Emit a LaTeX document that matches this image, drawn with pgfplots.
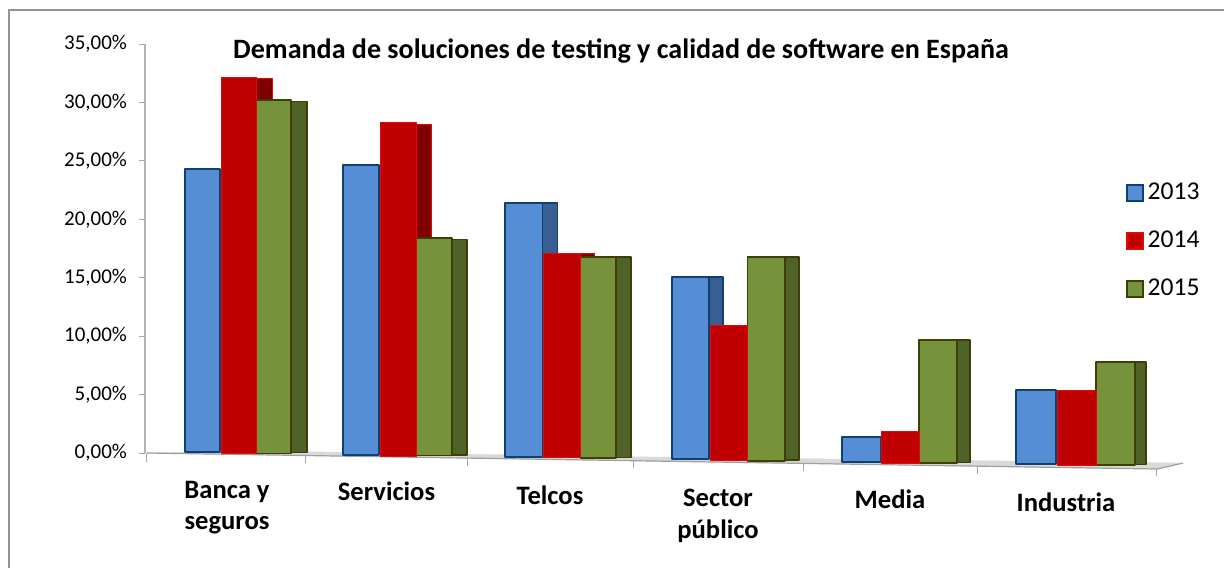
\documentclass[border=0pt]{standalone}
\usepackage{pgfplots}
\pgfplotsset{compat=1.18}
\usepackage{fontspec}
\setmainfont{Carlito}
\definecolor{bF}{HTML}{558ED5}\definecolor{bS}{HTML}{375F91}\definecolor{bE}{HTML}{10406F}
\definecolor{rF}{HTML}{C00000}\definecolor{rS}{HTML}{7F0000}\definecolor{rE}{HTML}{E00808}
\definecolor{gF}{HTML}{76933C}\definecolor{gS}{HTML}{4F6228}\definecolor{gE}{HTML}{3F3F05}
\tikzset{wb/.style={line width=.9pt},wr/.style={line width=.5pt},wg/.style={line width=.9pt}}
\newcommand{\barp}[5]{\addplot[forget plot,fill=#5F,draw=#5E,w#5,line join=round] coordinates {(#1,#3)(#1,#4)(#2,#4)(#2,#3)} --cycle;}
\newcommand{\sidep}[5]{\addplot[forget plot,fill=#5S,draw=#5E,w#5,line join=round] coordinates {(#1,#3)(#1,#4)(#2,#4)(#2,#3)} --cycle;}
\newcommand{\tickp}[3]{\addplot[forget plot,draw=gray!70,line width=.5pt] coordinates {(#1,#2)(#1,#3)};}
\newcommand{\lab}[3]{\node[font=\fontsize{13.3}{13.3}\selectfont\bfseries,anchor=center] at (axis cs:#1,#2) {#3};}
\begin{document}
\begin{tikzpicture}[x=1pt,y=1pt]
\path[use as bounding box] (-72.5pt,-57.5pt) rectangle (539.5pt,226.5pt);
\draw[color=gray!85,line width=.75pt] (-68pt,-57.5pt) -- (-68pt,221.5pt) -- (539.5pt,221.5pt);
\begin{axis}[
  at={(0pt,0pt)},anchor=south west,
  scale only axis,width=539.5pt,height=204.5pt,
  xmin=145,xmax=1224,ymin=0,ymax=35,
  clip=false,no marks,
  axis x line=none,
  axis y line*=left,
  y axis line style={draw=gray!60,line width=.9pt,-},
  ytick={0,5,10,15,20,25,30,35},
  yticklabels={{0,00\%},{5,00\%},{10,00\%},{15,00\%},{20,00\%},{25,00\%},{30,00\%},{35,00\%}},
  tick align=outside,
  major tick length=3pt,
  ytick style={draw=gray!70,line width=.5pt},
  yticklabel style={font=\fontsize{10.5}{10.5}\selectfont,xshift=-2.5pt},
  legend cell align=left,
  legend style={draw=none,fill=none,at={(axis cs:1125.5,23.15)},anchor=north west,
    font=\fontsize{12.8}{12.8}\selectfont,row sep=14.2pt,inner sep=0pt,
    nodes={inner sep=0pt,inner xsep=2pt}},
  legend image code/.code={\draw[#1,line width=.9pt] (0.5pt,-4pt) rectangle (8.5pt,4pt);},
]
% floor
\addplot[forget plot,fill=gray!30,draw=gray!30,line width=.2pt] coordinates
 {(147,0)(1157,-1.37)(1183,-0.86)(650,-0.34)(320,0.09)(215,0.13)} --cycle;
\addplot[forget plot,draw=gray!75,line width=.6pt] coordinates {(147,0)(1157,-1.37)(1183,-0.86)};
\tickp{147}{0}{-0.75}
\tickp{305.7}{-0.26}{-0.86}
\tickp{467.7}{-0.43}{-1.1}
\tickp{633.7}{-0.68}{-1.28}
\tickp{803}{-0.86}{-1.54}
\tickp{977.7}{-1.15}{-1.8}
\tickp{1156.7}{-1.37}{-2.0}
% Banca y seguros
\sidep{256}{272}{0}{32.05}{r}
\sidep{291}{307}{0.05}{30.08}{g}\barp{256.5}{291}{-0.04}{30.2}{g}
\barp{185}{220}{0.06}{24.28}{b}
\barp{221}{256.5}{0}{32.17}{r}
% Servicios
\sidep{416}{431}{-0.2}{28.14}{r}
\sidep{452}{467}{-0.15}{18.27}{g}\barp{416.5}{452}{-0.21}{18.37}{g}
\barp{343}{379}{-0.15}{24.67}{b}
\barp{380}{416.5}{-0.26}{28.26}{r}
% Telcos
\sidep{542.5}{557.5}{-0.25}{21.37}{b}
\sidep{580}{594}{-0.33}{17.03}{r}
\sidep{616}{631}{-0.38}{16.75}{g}\barp{580.5}{616}{-0.45}{16.75}{g}
\barp{505}{542.5}{-0.32}{21.37}{b}
\barp{543.5}{580.5}{-0.39}{17.09}{r}
% Sector publico
\sidep{709}{723}{-0.45}{15.09}{b}
\sidep{785}{799}{-0.58}{16.75}{g}\barp{747.5}{785}{-0.66}{16.75}{g}
\barp{671.7}{709}{-0.54}{15.09}{b}
\barp{710}{747.5}{-0.6}{10.89}{r}
% Media
\sidep{957.3}{970}{-0.82}{9.67}{g}\barp{919.3}{957.3}{-0.88}{9.67}{g}
\barp{841.7}{880.7}{-0.77}{1.39}{b}
\barp{881.5}{919.3}{-0.86}{1.88}{r}
% Industria
\sidep{1135}{1146}{-0.98}{7.79}{g}\barp{1096}{1135}{-1.05}{7.79}{g}
\barp{1016}{1056}{-0.94}{5.39}{b}
\barp{1057}{1096}{-1.03}{5.39}{r}
\addlegendimage{fill=bF,draw=bE}\addlegendentry{2013}
\addlegendimage{fill=rF,draw=rE}\addlegendentry{2014}
\addlegendimage{fill=gF,draw=gE}\addlegendentry{2015}
\node[font=\fontsize{14.03}{14.03}\selectfont\bfseries] at (axis cs:621,34.4) {Demanda de soluciones de testing y calidad de software en España};
\lab{227}{-3.35}{Banca y}
\lab{227}{-6.2}{seguros}
\lab{386.5}{-3.3}{Servicios}
\lab{550}{-3.6}{Telcos}
\lab{718}{-3.8}{Sector}
\lab{718}{-6.7}{público}
\lab{890}{-4}{Media}
\lab{1066}{-4.2}{Industria}
\end{axis}
\end{tikzpicture}
\end{document}
